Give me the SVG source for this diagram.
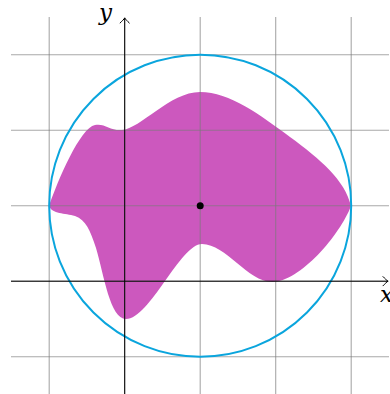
<svg xmlns="http://www.w3.org/2000/svg" width="390" height="394" viewBox="0 0 390 394">
  <style>
    .grid line { stroke: #7a7a7a; stroke-opacity: 0.65; stroke-width: 1.1; }
    .axis { stroke: #000; stroke-width: 1; fill: none; }
    .arrow { stroke: #000; stroke-width: 1; fill: none; stroke-linecap: round; stroke-linejoin: round; }
    .lbl { font-family: "DejaVu Serif", "Liberation Serif", serif; font-style: italic; font-size: 23px; fill: #000; }
  </style>
  <rect width="390" height="394" fill="#fff"/>
  <g id="blob">
    <path fill="#CC58BE" d="M 49,206 C 58,180 80,128 95,125 C 105,123 110,131 122,130 C 140,129 170,92 200,92 C 230,92 260,115 290,137 C 320,159 345,180 351,206 C 340,235 300,282 272,282 C 248,282 226,244 202,244 C 180,244 150,319 126,319 C 110,319 104,275 96,248 C 90,230 86,220 75,216 C 65,213 52,214 49,206 Z"/>
  </g>
  <g id="grid" class="grid">
    <line x1="49.2" y1="17" x2="49.2" y2="394"/>
    <line x1="124.7" y1="17" x2="124.7" y2="394"/>
    <line x1="200.2" y1="17" x2="200.2" y2="394"/>
    <line x1="275.7" y1="17" x2="275.7" y2="394"/>
    <line x1="351.2" y1="17" x2="351.2" y2="394"/>
    <line x1="11" y1="54.7" x2="389" y2="54.7"/>
    <line x1="11" y1="130.2" x2="389" y2="130.2"/>
    <line x1="11" y1="205.7" x2="389" y2="205.7"/>
    <line x1="11" y1="281.2" x2="389" y2="281.2"/>
    <line x1="11" y1="356.7" x2="389" y2="356.7"/>
  </g>
  <g id="circle">
    <circle cx="200.2" cy="205.7" r="151" fill="none" stroke="#0AA5DD" stroke-width="2"/>
  </g>
  <g id="axes">
    <line class="axis" x1="11" y1="281.2" x2="388" y2="281.2"/>
    <path class="arrow" d="M 383,276.6 C 385,278.6 386.8,280.5 388,281.2 C 386.8,281.9 385,283.8 383,285.8"/>
    <line class="axis" x1="124.7" y1="394" x2="124.7" y2="18"/>
    <path class="arrow" d="M 120.1,23 C 122.1,21 124,19.2 124.7,18 C 125.4,19.2 127.3,21 129.3,23"/>
    <text class="lbl" x="99" y="20">y</text>
    <text class="lbl" x="380" y="302">x</text>
  </g>
  <g id="center">
    <circle cx="200.2" cy="205.7" r="3.5" fill="#000"/>
  </g>
</svg>
